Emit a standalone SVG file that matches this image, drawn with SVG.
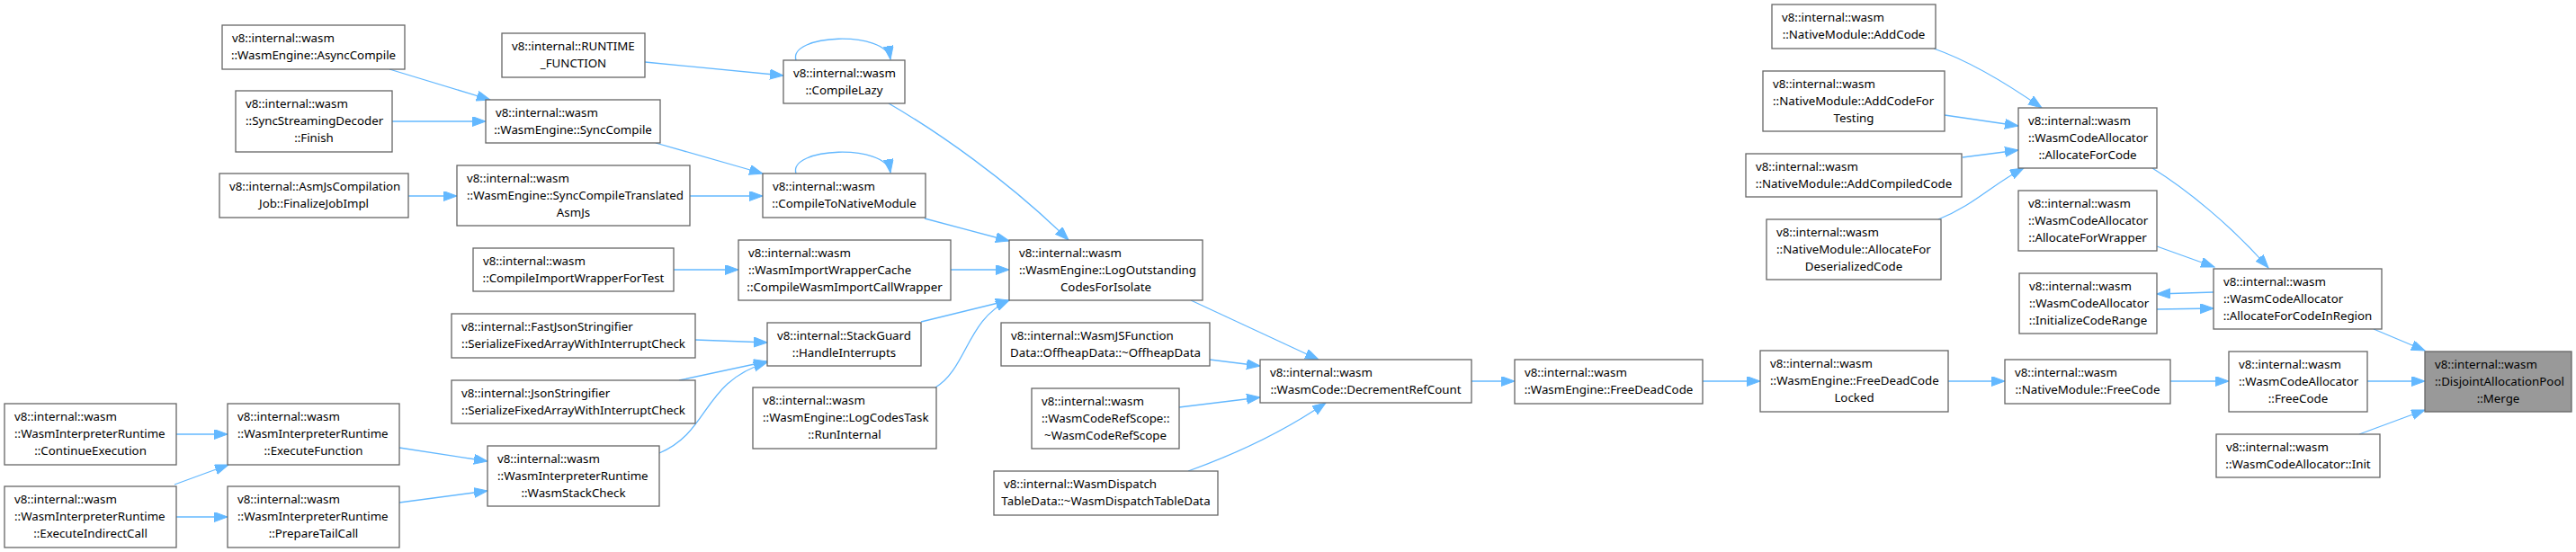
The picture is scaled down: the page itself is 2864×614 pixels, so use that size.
<svg xmlns="http://www.w3.org/2000/svg" width="2864" height="614" viewBox="0 0 2864 614">
<style>
.node rect{fill:#ffffff;stroke:#666666;stroke-width:1.3}
.hl rect{fill:#999999}
text{font-family:"Noto Sans","Open Sans","DejaVu Sans",sans-serif;font-size:13.3px;fill:#000}
.c{text-anchor:middle}
.e path{fill:none;stroke:#63b8ff;stroke-width:1.3;marker-end:url(#ah)}
</style>
<defs>
<marker id="ah" markerUnits="userSpaceOnUse" markerWidth="16" markerHeight="12" refX="15" refY="5.5" orient="auto">
<path d="M0,0 L15,5.5 L0,11 z" fill="#63b8ff" stroke="#63b8ff" stroke-width="1"/>
</marker>
</defs>
<rect width="2864" height="614" fill="#ffffff"/>
<g id="edges" class="e">
<path d="M433,77 L545,111"/>
<path d="M436,135 L540,135"/>
<path d="M454,218 L508,218"/>
<path d="M717,69 L871,84"/>
<path d="M729,159 L848,193"/>
<path d="M767,218 L848,218"/>
<path d="M885,67 C876,38 985,33 990,66"/>
<path d="M885,193 C876,164 985,159 990,192"/>
<path d="M988,115 C1040,145 1120,200 1188,267"/>
<path d="M1028,243 L1122,268"/>
<path d="M749,300 L821,300"/>
<path d="M1057,300 L1122,300"/>
<path d="M773,378 L853,381"/>
<path d="M755,423 L853,402"/>
<path d="M733,504 C790,480 780,425 853,403"/>
<path d="M1024,358 L1122,334"/>
<path d="M1040,431 C1075,410 1075,355 1122,334"/>
<path d="M196,483 L253,483"/>
<path d="M194,539 L254,517"/>
<path d="M196,575 L253,575"/>
<path d="M444,498 L542,513"/>
<path d="M444,559 L542,546"/>
<path d="M1324,334 L1466,400"/>
<path d="M1345,400 L1401,407"/>
<path d="M1311,453 L1401,442"/>
<path d="M1321,524 C1360,510 1420,485 1474,448"/>
<path d="M1636,424 L1684,424"/>
<path d="M1893,424 L1957,424"/>
<path d="M2166,424 L2229,424"/>
<path d="M2413,424 L2478,424"/>
<path d="M2632,424 L2696,424"/>
<path d="M2639,366 L2696,390"/>
<path d="M2623,483 L2696,456"/>
<path d="M2393,187 C2430,210 2480,250 2522,298"/>
<path d="M2398,274 L2462,297"/>
<path d="M2461,325 L2398,327"/>
<path d="M2398,344 L2461,343"/>
<path d="M2150,54 C2190,68 2230,92 2270,120"/>
<path d="M2162,128 L2244,140"/>
<path d="M2182,175 L2244,167"/>
<path d="M2155,244 C2195,228 2215,205 2250,187"/>
</g>
<g id="n1" class="node"><rect x="247" y="28" width="203" height="49"/><text x="258" y="46.5">v8::internal::wasm</text><text class="c" x="348.5" y="65.5">::WasmEngine::AsyncCompile</text></g>
<g id="n2" class="node"><rect x="262" y="101" width="174" height="68"/><text x="273" y="119.5">v8::internal::wasm</text><text x="273" y="138.5">::SyncStreamingDecoder</text><text class="c" x="349" y="157.5">::Finish</text></g>
<g id="n3" class="node"><rect x="244" y="193" width="210" height="49"/><text x="255" y="211.5">v8::internal::AsmJsCompilation</text><text class="c" x="349" y="230.5">Job::FinalizeJobImpl</text></g>
<g id="n4" class="node"><rect x="5" y="449" width="191" height="68"/><text x="16" y="467.5">v8::internal::wasm</text><text x="16" y="486.5">::WasmInterpreterRuntime</text><text class="c" x="100.5" y="505.5">::ContinueExecution</text></g>
<g id="n5" class="node"><rect x="5" y="541" width="191" height="68"/><text x="16" y="559.5">v8::internal::wasm</text><text x="16" y="578.5">::WasmInterpreterRuntime</text><text class="c" x="100.5" y="597.5">::ExecuteIndirectCall</text></g>
<g id="n6" class="node"><rect x="253" y="449" width="191" height="68"/><text x="264" y="467.5">v8::internal::wasm</text><text x="264" y="486.5">::WasmInterpreterRuntime</text><text class="c" x="348.5" y="505.5">::ExecuteFunction</text></g>
<g id="n7" class="node"><rect x="253" y="541" width="191" height="68"/><text x="264" y="559.5">v8::internal::wasm</text><text x="264" y="578.5">::WasmInterpreterRuntime</text><text class="c" x="348.5" y="597.5">::PrepareTailCall</text></g>
<g id="n8" class="node"><rect x="558" y="37" width="159" height="49"/><text x="569" y="55.5">v8::internal::RUNTIME</text><text class="c" x="637.5" y="74.5">_FUNCTION</text></g>
<g id="n9" class="node"><rect x="540" y="111" width="194" height="48"/><text x="551" y="129.5">v8::internal::wasm</text><text class="c" x="637" y="148.5">::WasmEngine::SyncCompile</text></g>
<g id="n10" class="node"><rect x="508" y="184" width="259" height="67"/><text x="519" y="202.5">v8::internal::wasm</text><text x="519" y="221.5">::WasmEngine::SyncCompileTranslated</text><text class="c" x="637.5" y="240.5">AsmJs</text></g>
<g id="n11" class="node"><rect x="526" y="276" width="223" height="48"/><text x="537" y="294.5">v8::internal::wasm</text><text class="c" x="637.5" y="313.5">::CompileImportWrapperForTest</text></g>
<g id="n12" class="node"><rect x="502" y="349" width="271" height="49"/><text x="513" y="367.5">v8::internal::FastJsonStringifier</text><text class="c" x="637.5" y="386.5">::SerializeFixedArrayWithInterruptCheck</text></g>
<g id="n13" class="node"><rect x="502" y="423" width="271" height="48"/><text x="513" y="441.5">v8::internal::JsonStringifier</text><text class="c" x="637.5" y="460.5">::SerializeFixedArrayWithInterruptCheck</text></g>
<g id="n14" class="node"><rect x="542" y="496" width="191" height="67"/><text x="553" y="514.5">v8::internal::wasm</text><text x="553" y="533.5">::WasmInterpreterRuntime</text><text class="c" x="637.5" y="552.5">::WasmStackCheck</text></g>
<g id="n15" class="node"><rect x="871" y="67" width="135" height="48"/><text x="882" y="85.5">v8::internal::wasm</text><text class="c" x="938.5" y="104.5">::CompileLazy</text></g>
<g id="n16" class="node"><rect x="848" y="193" width="181" height="49"/><text x="859" y="211.5">v8::internal::wasm</text><text class="c" x="938.5" y="230.5">::CompileToNativeModule</text></g>
<g id="n17" class="node"><rect x="821" y="267" width="236" height="67"/><text x="832" y="285.5">v8::internal::wasm</text><text x="832" y="304.5">::WasmImportWrapperCache</text><text class="c" x="939" y="323.5">::CompileWasmImportCallWrapper</text></g>
<g id="n18" class="node"><rect x="853" y="359" width="171" height="48"/><text x="864" y="377.5">v8::internal::StackGuard</text><text class="c" x="938.5" y="396.5">::HandleInterrupts</text></g>
<g id="n19" class="node"><rect x="837" y="431" width="204" height="68"/><text x="848" y="449.5">v8::internal::wasm</text><text x="848" y="468.5">::WasmEngine::LogCodesTask</text><text class="c" x="939" y="487.5">::RunInternal</text></g>
<g id="n20" class="node"><rect x="1122" y="267" width="215" height="67"/><text x="1133" y="285.5">v8::internal::wasm</text><text x="1133" y="304.5">::WasmEngine::LogOutstanding</text><text class="c" x="1229.5" y="323.5">CodesForIsolate</text></g>
<g id="n21" class="node"><rect x="1113" y="359" width="232" height="48"/><text x="1124" y="377.5">v8::internal::WasmJSFunction</text><text class="c" x="1229" y="396.5">Data::OffheapData::~OffheapData</text></g>
<g id="n22" class="node"><rect x="1147" y="432" width="164" height="67"/><text x="1158" y="450.5">v8::internal::wasm</text><text x="1158" y="469.5">::WasmCodeRefScope::</text><text class="c" x="1229" y="488.5">~WasmCodeRefScope</text></g>
<g id="n23" class="node"><rect x="1105" y="524" width="249" height="49"/><text x="1116" y="542.5">v8::internal::WasmDispatch</text><text class="c" x="1229.5" y="561.5">TableData::~WasmDispatchTableData</text></g>
<g id="n24" class="node"><rect x="1401" y="400" width="235" height="48"/><text x="1412" y="418.5">v8::internal::wasm</text><text class="c" x="1518.5" y="437.5">::WasmCode::DecrementRefCount</text></g>
<g id="n25" class="node"><rect x="1684" y="400" width="209" height="49"/><text x="1695" y="418.5">v8::internal::wasm</text><text class="c" x="1788.5" y="437.5">::WasmEngine::FreeDeadCode</text></g>
<g id="n26" class="node"><rect x="1957" y="390" width="209" height="68"/><text x="1968" y="408.5">v8::internal::wasm</text><text x="1968" y="427.5">::WasmEngine::FreeDeadCode</text><text class="c" x="2061.5" y="446.5">Locked</text></g>
<g id="n27" class="node"><rect x="1970" y="5" width="182" height="49"/><text x="1981" y="23.5">v8::internal::wasm</text><text class="c" x="2061" y="42.5">::NativeModule::AddCode</text></g>
<g id="n28" class="node"><rect x="1960" y="79" width="202" height="67"/><text x="1971" y="97.5">v8::internal::wasm</text><text x="1971" y="116.5">::NativeModule::AddCodeFor</text><text class="c" x="2061" y="135.5">Testing</text></g>
<g id="n29" class="node"><rect x="1941" y="171" width="240" height="48"/><text x="1952" y="189.5">v8::internal::wasm</text><text class="c" x="2061" y="208.5">::NativeModule::AddCompiledCode</text></g>
<g id="n30" class="node"><rect x="1964" y="244" width="194" height="67"/><text x="1975" y="262.5">v8::internal::wasm</text><text x="1975" y="281.5">::NativeModule::AllocateFor</text><text class="c" x="2061" y="300.5">DeserializedCode</text></g>
<g id="n31" class="node"><rect x="2244" y="120" width="154" height="67"/><text x="2255" y="138.5">v8::internal::wasm</text><text x="2255" y="157.5">::WasmCodeAllocator</text><text class="c" x="2321" y="176.5">::AllocateForCode</text></g>
<g id="n32" class="node"><rect x="2244" y="212" width="154" height="67"/><text x="2255" y="230.5">v8::internal::wasm</text><text x="2255" y="249.5">::WasmCodeAllocator</text><text class="c" x="2321" y="268.5">::AllocateForWrapper</text></g>
<g id="n33" class="node"><rect x="2245" y="304" width="153" height="67"/><text x="2256" y="322.5">v8::internal::wasm</text><text x="2256" y="341.5">::WasmCodeAllocator</text><text class="c" x="2321.5" y="360.5">::InitializeCodeRange</text></g>
<g id="n34" class="node"><rect x="2461" y="299" width="187" height="67"/><text x="2472" y="317.5">v8::internal::wasm</text><text x="2472" y="336.5">::WasmCodeAllocator</text><text class="c" x="2554.5" y="355.5">::AllocateForCodeInRegion</text></g>
<g id="n35" class="node"><rect x="2229" y="400" width="184" height="49"/><text x="2240" y="418.5">v8::internal::wasm</text><text class="c" x="2321" y="437.5">::NativeModule::FreeCode</text></g>
<g id="n36" class="node"><rect x="2478" y="391" width="154" height="67"/><text x="2489" y="409.5">v8::internal::wasm</text><text x="2489" y="428.5">::WasmCodeAllocator</text><text class="c" x="2555" y="447.5">::FreeCode</text></g>
<g id="n37" class="node"><rect x="2464" y="483" width="182" height="48"/><text x="2475" y="501.5">v8::internal::wasm</text><text class="c" x="2555" y="520.5">::WasmCodeAllocator::Init</text></g>
<g id="n38" class="node hl"><rect x="2696" y="391" width="163" height="67"/><text x="2707" y="409.5">v8::internal::wasm</text><text x="2707" y="428.5">::DisjointAllocationPool</text><text class="c" x="2777.5" y="447.5">::Merge</text></g>
</svg>
